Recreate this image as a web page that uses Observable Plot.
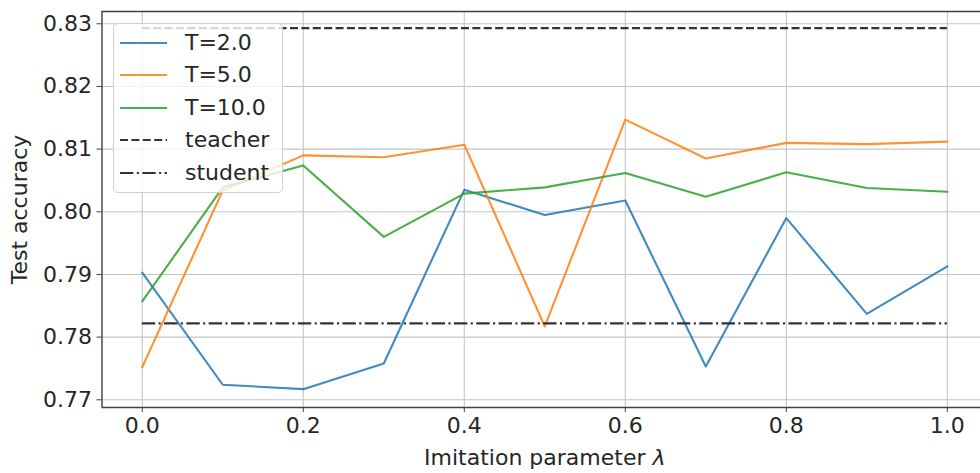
<!DOCTYPE html>
<html><head><meta charset="utf-8">
<script src="https://cdn.jsdelivr.net/npm/d3@7"></script>
<script src="https://cdn.jsdelivr.net/npm/@observablehq/plot@0.6"></script>
<style>
body{margin:0;background:#fff;}
#wrap{position:relative;width:980px;height:473px;font-family:"DejaVu Sans";color:#262626;overflow:hidden;}
.legend{position:absolute;left:113px;top:23px;width:170px;height:170px;background:rgba(255,255,255,0.8);border:1px solid #d0d0d0;border-radius:5px;box-sizing:border-box;}
.row{position:absolute;left:0;height:32px;display:flex;align-items:center;font-size:22px;line-height:32px;}
.row svg{margin-left:6px;margin-right:18px;}
</style></head>
<body><div id="wrap"></div>
<script>
// ---- data ----
const lambdas = [0.0, 0.1, 0.2, 0.3, 0.4, 0.5, 0.6, 0.7, 0.8, 0.9, 1.0];
const accT2  = [0.7903, 0.7724, 0.7717, 0.7758, 0.8035, 0.7995, 0.8018, 0.7753, 0.7990, 0.7837, 0.7913];
const accT5  = [0.7752, 0.8034, 0.8090, 0.8087, 0.8107, 0.7817, 0.8147, 0.8085, 0.8110, 0.8108, 0.8112];
const accT10 = [0.7857, 0.8039, 0.8074, 0.7960, 0.8029, 0.8039, 0.8062, 0.8024, 0.8063, 0.8038, 0.8032];
const teacherAcc = 0.8293;
const studentAcc = 0.7822;
const seriesNames = ["T=2.0", "T=5.0", "T=10.0"];
const seriesColors = ["#1f77b4", "#ff7f0e", "#2ca02c"];
const xTicks = [0.0, 0.2, 0.4, 0.6, 0.8, 1.0];
const yTicks = [0.77, 0.78, 0.79, 0.80, 0.81, 0.82, 0.83];
const xLabel = "Imitation parameter λ";
const yLabel = "Test accuracy";

// ---- build table ----
const seriesVals = [accT2, accT5, accT10];
const rows = [];
seriesNames.forEach((name, si) => lambdas.forEach((l, i) => rows.push({lambda: l, acc: seriesVals[si][i], series: name})));

const xDomain = [-0.05, 1.0412];
const yDomain = [0.76877, 0.83196];
const ink = "#262626";
const refColor = "#333333";
const lineAlpha = 0.85;

const chart = Plot.plot({
  width: 980, height: 473,
  marginLeft: 101.5, marginRight: 0, marginTop: 11, marginBottom: 66,
  style: {fontFamily: "DejaVu Sans", fontSize: "22px", color: ink, background: "white"},
  x: {domain: xDomain},
  y: {domain: yDomain},
  color: {domain: seriesNames, range: seriesColors},
  marks: [
    Plot.gridX(xTicks, {stroke: "#c4c4c4", strokeOpacity: 1, strokeWidth: 1.1}),
    Plot.gridY(yTicks, {stroke: "#c4c4c4", strokeOpacity: 1, strokeWidth: 1.1}),
    Plot.ruleX([xDomain[0]], {stroke: "#404040", strokeWidth: 1.4}),
    Plot.ruleY(yDomain, {stroke: "#404040", strokeWidth: 1.4}),
    Plot.axisX(xTicks, {tickFormat: d3.format(".1f"), tickSize: 5, tickPadding: 5, label: null, stroke: "#404040"}),
    Plot.axisY(yTicks, {tickFormat: d3.format(".2f"), tickSize: 5, tickPadding: 5, label: null, stroke: "#404040"}),
    Plot.line(rows, {x: "lambda", y: "acc", stroke: "series", z: "series", strokeWidth: 2.1, strokeOpacity: lineAlpha, strokeLinejoin: "round"}),
    Plot.ruleY([teacherAcc], {x1: d3.min(lambdas), x2: d3.max(lambdas), stroke: refColor, strokeWidth: 2.1, strokeDasharray: "8,3.4"}),
    Plot.ruleY([studentAcc], {x1: d3.min(lambdas), x2: d3.max(lambdas), stroke: refColor, strokeWidth: 2.1, strokeDasharray: "13.4,3.4,2.1,3.4"}),
    Plot.text([xLabel], {x: (d3.min(lambdas) + d3.max(lambdas)) / 2, frameAnchor: "bottom", dy: 50, fill: ink, fontSize: 22, lineAnchor: "middle", textAnchor: "middle"}),
    Plot.text([yLabel], {frameAnchor: "left", dx: -82, rotate: -90, fill: ink, fontSize: 22, lineAnchor: "middle", textAnchor: "middle"})
  ]
});
document.getElementById("wrap").appendChild(chart);

// italic lambda in x label
d3.select(chart).selectAll("text").each(function() {
  if (this.textContent === xLabel) {
    this.textContent = "Imitation parameter ";
    d3.select(this).append("tspan").attr("font-style", "italic").text("λ");
  }
});

// ---- legend ----
const legend = document.createElement("div");
legend.className = "legend";
const entries = seriesNames.map((n, i) => ({name: n, color: seriesColors[i], dash: null, op: lineAlpha}))
  .concat([{name: "teacher", color: refColor, dash: "8,3.4", op: 1}, {name: "student", color: refColor, dash: "13.4,3.4,2.1,3.4", op: 1}]);
entries.forEach((e, i) => {
  const r = document.createElement("div");
  r.className = "row";
  r.style.top = (2.7 + i * 32.5) + "px";
  r.innerHTML = `<svg width="47" height="6"><line x1="0" x2="47" y1="3" y2="3" stroke="${e.color}" stroke-opacity="${e.op}" stroke-width="2.1" ${e.dash ? `stroke-dasharray="${e.dash}"` : ""}/></svg><span>${e.name}</span>`;
  legend.appendChild(r);
});
document.getElementById("wrap").appendChild(legend);
</script>
</body></html>
